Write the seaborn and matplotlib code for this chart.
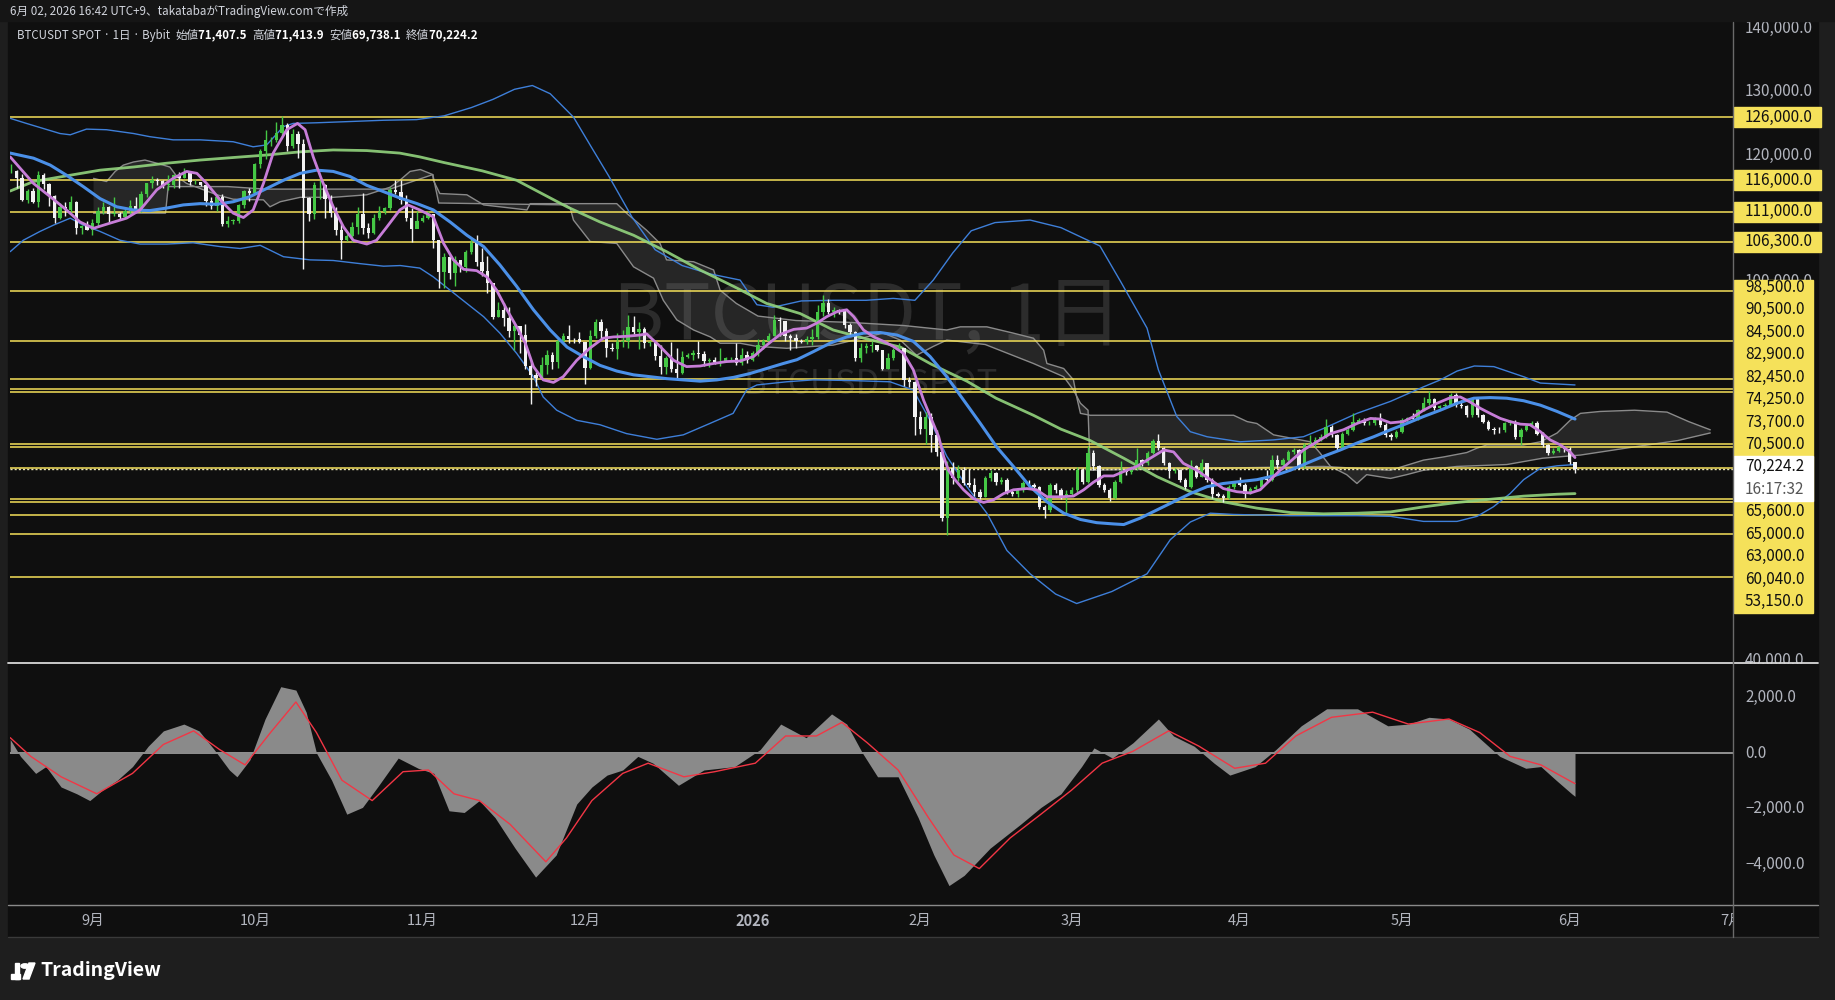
import numpy as np
import pandas as pd
import matplotlib
matplotlib.use("Agg")
import matplotlib.pyplot as plt
from matplotlib.patches import Rectangle
import seaborn as sns

# ---- daily candles (thousand USDT), 2025-08-17 .. 2026-06-02 ----
start_date = pd.Timestamp("2025-08-17")
first_open = 117.4
closes = [
    # Aug 17-31
    117.5, 116.3, 112.9, 114.3, 112.5, 116.9, 115.4, 113.5, 110.1, 111.8, 111.3, 112.6, 108.4, 108.8, 108.2,
    # Sep
    109.2, 111.2, 111.7, 110.7, 110.7, 110.2, 111.1, 112.0, 111.5, 113.9, 115.5, 116.1, 115.9, 115.3, 115.3,
    116.8, 116.4, 117.1, 115.7, 115.7, 115.2, 112.7, 112.0, 113.3, 109.0, 109.6, 109.6, 112.1, 114.3, 114.0,
    # Oct
    118.6, 120.6, 122.3, 122.4, 123.5, 124.7, 121.4, 123.3, 121.7, 113.2, 110.7, 115.2, 115.3, 113.1, 110.8,
    108.2, 106.5, 107.2, 108.6, 110.6, 108.4, 107.6, 110.1, 111.0, 111.6, 114.5, 114.1, 112.9, 110.0, 108.3, 109.6,
    # Nov
    110.1, 110.6, 106.5, 101.5, 103.9, 101.3, 103.4, 102.3, 104.7, 106.0, 103.0, 101.6, 99.7, 94.4, 95.5,
    94.2, 92.2, 92.9, 91.5, 86.6, 85.1, 84.7, 86.8, 88.3, 87.3, 90.5, 91.3, 90.9, 90.8, 90.4,
    # Dec
    86.3, 91.3, 93.5, 92.1, 89.4, 89.3, 90.4, 90.6, 92.7, 92.0, 92.5, 90.3, 90.3, 88.2, 86.4,
    87.8, 86.1, 85.5, 88.1, 88.3, 88.6, 88.5, 87.4, 87.6, 87.2, 87.3, 87.8, 87.8, 87.1, 88.4, 87.5,
    # Jan
    88.7, 89.9, 90.6, 91.4, 93.9, 93.7, 91.3, 91.0, 90.5, 90.4, 90.8, 91.2, 95.2, 96.5, 95.2,
    95.4, 95.3, 93.1, 92.0, 87.8, 89.4, 89.7, 89.9, 89.1, 86.2, 87.8, 89.1, 89.4, 84.4, 84.1, 78.6,
    # Feb
    76.7, 78.6, 75.7, 73.0, 62.5, 70.4, 68.8, 70.1, 68.0, 67.8, 66.7, 65.9, 68.8, 69.6,
    68.3, 68.5, 66.7, 66.4, 67.0, 68.0, 67.8, 67.5, 64.3, 63.8, 67.8, 67.0, 65.9, 66.4,
    # Mar
    67.0, 70.1, 68.3, 72.8, 70.7, 67.8, 67.0, 65.7, 68.3, 69.9, 69.8, 70.4, 71.7, 71.2, 72.8,
    74.8, 73.6, 71.2, 69.9, 70.1, 68.6, 67.5, 70.7, 69.1, 71.2, 68.6, 66.4, 66.0, 65.7, 67.5, 68.0,
    # Apr
    67.8, 66.4, 67.1, 67.5, 68.8, 68.6, 71.7, 70.9, 71.7, 73.0, 73.3, 70.7, 74.1, 74.3, 74.9,
    75.4, 77.0, 75.7, 73.6, 75.9, 76.5, 77.8, 78.05, 77.5, 77.6, 78.3, 77.3, 75.7, 75.4, 76.2,
    # May
    78.05, 78.3, 78.2, 79.6, 80.7, 81.3, 79.9, 80.2, 80.5, 82.0, 80.4, 80.2, 78.8, 81.3, 78.8,
    77.8, 76.7, 76.5, 76.4, 77.5, 77.8, 75.4, 76.5, 77.1, 77.5, 75.9, 74.1, 72.8, 73.2, 73.7, 73.4,
    # Jun 1-2
    71.4075, 70.2242,
]
highs = [
    118.6, 117.6, 117.0, 114.6, 114.8, 117.4, 117.1, 115.6, 113.6, 112.4, 112.6, 113.5, 112.7, 108.9, 109.5,
    109.9, 111.8, 112.6, 112.0, 113.4, 111.0, 111.6, 112.9, 113.3, 114.3, 115.5, 116.6, 116.3, 116.1, 116.8,
    117.0, 117.3, 117.9, 117.5, 116.1, 115.8, 115.4, 113.3, 113.9, 113.9, 110.3, 109.8, 112.3, 114.5, 114.8,
    118.7, 121.0, 123.9, 122.9, 125.3, 126.2, 125.0, 124.1, 123.8, 122.5, 113.4, 115.8, 116.0, 115.4, 113.6,
    111.8, 109.0, 107.5, 109.4, 111.7, 114.0, 109.2, 110.6, 112.0, 111.8, 115.0, 116.1, 116.1, 113.6, 111.6, 111.2,
    110.5, 111.2, 110.7, 106.6, 104.5, 104.2, 104.0, 103.4, 105.0, 106.7, 107.4, 105.3, 104.0, 99.7, 96.8,
    96.6, 96.0, 93.8, 92.7, 93.2, 87.4, 85.6, 88.0, 89.2, 88.8, 91.0, 91.9, 93.1, 91.1, 92.0,
    90.4, 92.3, 94.1, 94.0, 92.6, 90.3, 91.8, 92.3, 94.6, 94.5, 93.6, 92.8, 90.6, 90.5, 90.0,
    88.2, 90.4, 89.5, 89.0, 88.6, 89.1, 90.5, 88.9, 87.9, 88.0, 89.5, 88.0, 88.0, 90.3, 89.4, 89.0,
    88.9, 90.9, 90.8, 91.8, 94.7, 94.4, 93.6, 91.7, 91.6, 90.8, 91.3, 92.5, 96.2, 97.8, 97.2,
    95.9, 95.7, 95.5, 93.4, 92.2, 90.2, 90.3, 90.6, 90.0, 89.2, 88.6, 89.5, 90.2, 89.5, 84.8, 84.2,
    79.4, 79.3, 79.2, 76.5, 73.2, 71.5, 71.4, 71.0, 70.6, 70.3, 68.9, 67.1, 69.2, 70.2,
    69.8, 69.0, 68.8, 67.2, 67.3, 68.4, 68.5, 68.0, 67.6, 64.6, 68.1, 68.0, 67.3, 66.9,
    67.5, 70.6, 70.4, 74.0, 73.3, 71.0, 68.1, 67.3, 68.6, 71.5, 70.3, 70.7, 73.6, 71.9, 73.1,
    75.1, 75.8, 73.8, 71.4, 70.5, 70.3, 68.9, 71.7, 70.9, 71.8, 71.3, 68.8, 66.7, 66.3, 67.8, 68.4,
    69.1, 68.0, 67.4, 67.8, 69.0, 70.1, 72.5, 72.5, 72.0, 73.3, 73.6, 73.5, 74.4, 75.7, 75.3,
    75.9, 78.2, 77.3, 75.9, 76.2, 76.8, 79.2, 78.4, 78.3, 77.9, 78.6, 79.2, 77.5, 76.0, 76.5,
    78.3, 78.6, 79.2, 79.8, 81.7, 82.7, 81.6, 80.5, 80.8, 82.3, 82.3, 81.2, 80.5, 81.6, 81.4,
    79.0, 78.0, 77.0, 76.9, 77.8, 78.1, 78.0, 76.8, 77.4, 77.9, 77.9, 76.1, 74.3, 73.6, 74.0, 73.9,
    73.8, 71.4139,
]
lows = [
    117.2, 114.7, 112.7, 112.4, 112.4, 111.7, 114.6, 112.0, 109.3, 109.9, 110.4, 110.9, 107.5, 107.5, 108.1,
    107.3, 108.7, 110.6, 109.4, 110.3, 109.9, 110.0, 110.6, 110.9, 110.9, 113.4, 114.7, 115.3, 114.8, 114.4,
    114.8, 114.7, 116.3, 115.2, 115.4, 115.1, 112.0, 111.5, 111.1, 108.7, 108.6, 109.1, 109.2, 111.6, 112.7,
    113.9, 118.0, 119.3, 121.4, 122.0, 123.1, 120.6, 121.1, 119.6, 102.0, 109.6, 109.9, 113.0, 110.0, 110.2,
    107.4, 103.5, 106.4, 106.2, 107.5, 107.5, 106.8, 107.5, 109.7, 110.7, 111.3, 113.9, 112.2, 109.6, 106.3, 108.6,
    109.4, 109.8, 105.3, 98.9, 98.9, 100.3, 99.3, 101.5, 101.4, 104.3, 102.5, 100.8, 98.1, 94.0, 94.3,
    93.0, 91.2, 89.2, 88.6, 86.1, 80.6, 83.5, 84.7, 85.3, 86.1, 86.3, 90.1, 90.2, 90.2, 90.3,
    83.8, 86.2, 91.0, 91.0, 88.1, 88.9, 87.7, 89.6, 89.5, 91.6, 89.3, 89.5, 89.8, 87.6, 85.3,
    85.3, 85.6, 84.5, 85.3, 87.9, 87.6, 87.9, 86.6, 86.4, 86.9, 86.6, 87.2, 87.4, 86.8, 86.8, 87.1,
    87.4, 88.2, 89.3, 90.4, 91.3, 91.3, 90.6, 89.2, 89.5, 90.2, 90.1, 90.0, 90.9, 94.5, 94.8,
    94.4, 94.9, 92.6, 91.3, 87.4, 87.3, 88.7, 88.8, 88.9, 86.0, 86.1, 87.5, 88.9, 83.4, 83.3, 75.7,
    75.8, 74.3, 73.0, 72.4, 62.0, 59.8, 67.9, 68.4, 67.8, 67.4, 66.0, 65.5, 65.8, 68.4,
    67.8, 67.9, 66.3, 66.0, 65.9, 66.7, 67.5, 67.2, 63.9, 62.5, 63.5, 66.5, 65.5, 63.3,
    66.0, 66.5, 67.9, 68.0, 70.2, 67.5, 66.6, 65.3, 65.5, 68.0, 69.4, 69.5, 70.2, 70.8, 71.0,
    72.6, 73.3, 70.9, 68.8, 69.6, 68.3, 67.2, 67.3, 68.8, 69.0, 68.3, 65.7, 65.8, 65.1, 65.5, 67.2,
    67.6, 65.7, 66.3, 66.9, 67.3, 68.3, 68.4, 70.5, 70.6, 71.5, 72.6, 70.3, 70.5, 73.9, 73.8,
    74.7, 75.2, 75.4, 73.3, 73.4, 75.6, 76.3, 77.5, 77.2, 77.2, 77.3, 77.0, 75.4, 74.9, 75.2,
    76.0, 77.8, 77.9, 78.0, 79.4, 80.5, 79.6, 79.6, 80.0, 80.3, 80.1, 79.9, 78.5, 78.6, 78.5,
    77.5, 76.4, 75.9, 76.0, 76.2, 77.3, 75.1, 74.1, 76.3, 76.9, 75.6, 73.8, 72.5, 72.6, 73.0, 73.0,
    71.1, 69.7381,
]

# ---- indicator lines (day offset, thousand USDT) ----
fast_ma_days = [-0.2, 4.1, 7.2, 10.2, 12.7, 15.2, 18.2, 21.3, 23.8, 26.9, 29.9, 32.4, 34.3, 36.1, 38.6, 41.0,
                42.9, 44.7, 46.6, 48.4, 50.9, 52.9, 54.3, 55.8, 57.4, 59.5, 61.4, 63.2, 65.7, 67.5, 69.4, 71.8,
                73.3, 75.5, 78.0, 79.9, 81.7, 83.6, 86.0, 87.9, 89.7, 91.6, 93.4, 95.0, 96.5, 98.3, 100.2, 102.0,
                104.5, 106.9, 109.4, 111.3, 113.7, 116.2, 117.4, 119.9, 122.4, 124.8, 127.3, 129.8, 132.2, 134.7,
                137.2, 139.6, 142.1, 144.6, 147.0, 148.9, 150.7, 152.6, 154.4, 155.7, 157.5, 159.4, 161.2, 163.0,
                164.9, 166.7, 168.6, 170.1, 171.4, 172.3, 173.2, 174.4, 176.0, 177.8, 179.7, 181.5, 183.4, 185.2,
                187.7, 189.5, 191.4, 193.9, 196.3, 198.2, 200.0, 201.9, 203.7, 205.6, 208.0, 210.5, 213.0, 214.8,
                216.6, 219.1, 221.6, 224.0, 226.5, 229.0, 230.8, 232.7, 234.5, 236.4, 238.8, 241.3, 243.8, 246.2,
                248.7, 251.2, 253.0, 254.9, 257.3, 259.2, 261.0, 263.5, 266.0, 267.8, 269.6, 271.5, 273.3, 275.2,
                277.0, 278.9, 280.7, 282.6, 284.4, 286.3, 288.1, 289.0]
fast_ma_vals = [119.7, 115.5, 113.4, 111.3, 109.4, 108.4, 109.2, 110.0, 111.3, 114.5, 116.3, 117.4, 117.1, 115.5,
                112.9, 110.8, 110.1, 111.3, 115.5, 120.3, 124.0, 125.0, 124.0, 119.7, 116.0, 111.8, 108.6, 106.5,
                105.9, 106.5, 108.6, 111.3, 112.1, 111.3, 110.2, 106.0, 103.4, 101.9, 101.7, 100.7, 98.6, 95.5,
                92.8, 90.2, 86.5, 84.4, 84.0, 84.9, 87.5, 89.4, 91.0, 91.2, 91.3, 91.5, 91.7, 89.7, 87.5, 86.5,
                86.6, 87.0, 87.3, 87.4, 88.1, 89.9, 91.6, 92.4, 92.6, 93.4, 94.4, 95.2, 95.5, 94.4, 92.3, 91.2,
                90.5, 89.7, 88.6, 86.0, 81.2, 78.1, 75.4, 72.3, 70.1, 68.6, 67.0, 65.6, 65.0, 65.4, 66.4, 67.0,
                67.2, 67.0, 65.9, 65.9, 66.0, 67.0, 68.2, 69.2, 69.2, 69.9, 70.7, 72.0, 73.3, 73.0, 71.2, 70.1,
                68.6, 67.2, 66.7, 66.5, 67.0, 68.6, 70.1, 71.5, 73.3, 74.6, 75.9, 76.5, 77.5, 78.3, 78.2, 77.6,
                77.8, 78.6, 79.6, 80.7, 81.6, 81.7, 80.9, 79.9, 79.1, 78.3, 77.8, 77.4, 77.3, 76.2, 74.9, 74.1,
                73.0, 72.1]

mid_ma_days = [-0.2, 4.1, 7.2, 10.2, 13.3, 16.4, 19.5, 22.6, 25.6, 28.7, 31.8, 34.9, 37.9, 41.0, 44.1, 47.2, 50.3,
               53.4, 56.4, 59.5, 62.6, 65.7, 68.8, 71.8, 75.0, 78.0, 81.1, 84.2, 87.3, 90.3, 93.4, 96.5, 99.6,
               102.7, 105.7, 108.8, 111.9, 115.0, 118.1, 121.1, 124.2, 127.3, 130.4, 133.5, 136.5, 139.6, 142.7,
               145.2, 148.3, 151.3, 154.4, 157.5, 160.6, 163.7, 166.7, 169.8, 172.9, 176.0, 179.1, 182.1, 185.2,
               188.3, 191.4, 194.5, 197.6, 200.6, 203.7, 205.6, 208.6, 211.7, 214.8, 217.9, 221.0, 224.0, 227.1,
               230.2, 233.3, 236.4, 239.4, 242.5, 245.6, 248.7, 251.8, 254.9, 257.9, 261.0, 264.1, 267.2, 270.3,
               273.3, 276.4, 279.5, 282.6, 285.7, 289.0]
mid_ma_vals = [120.3, 119.5, 118.4, 116.8, 115.0, 113.1, 111.8, 111.3, 111.2, 111.6, 112.1, 112.3, 112.2, 112.6,
               113.4, 114.7, 116.0, 117.1, 117.6, 117.4, 116.6, 115.2, 114.2, 113.2, 112.3, 111.3, 109.4, 107.3,
               105.5, 102.6, 99.2, 95.5, 92.3, 89.6, 88.1, 86.7, 85.8, 85.2, 84.9, 84.6, 84.4, 84.2, 84.4, 84.8,
               85.4, 86.2, 87.0, 87.6, 88.9, 90.2, 91.2, 91.8, 91.9, 91.5, 90.5, 88.1, 84.9, 81.2, 77.5, 73.8,
               70.7, 67.5, 65.1, 63.3, 62.3, 61.8, 61.6, 61.5, 62.5, 63.8, 65.1, 66.4, 67.5, 68.0, 68.3, 68.6,
               69.2, 70.1, 71.2, 72.3, 73.3, 74.4, 75.4, 76.5, 77.5, 78.6, 79.6, 80.7, 81.5, 81.6, 81.5, 81.1,
               80.4, 79.4, 78.2]

slow_ma_days = [-0.2, 4.1, 10.2, 16.4, 22.6, 28.7, 34.9, 41.0, 47.2, 53.4, 59.5, 65.7, 71.8, 75.5, 80.0, 87.0,
                93.4, 102.7, 108.8, 115.0, 121.1, 127.3, 133.5, 139.6, 145.8, 151.9, 158.0, 164.3, 170.0, 176.6,
                182.0, 188.9, 194.0, 199.4, 205.6, 211.7, 217.9, 224.0, 230.2, 236.4, 242.5, 248.7, 254.9, 261.0,
                267.2, 273.3, 279.5, 285.7, 289.0]
slow_ma_vals = [114.3, 115.8, 116.7, 117.6, 118.1, 118.7, 119.2, 119.6, 120.0, 120.5, 120.8, 120.7, 120.3, 119.7,
                118.8, 117.5, 116.0, 111.8, 109.4, 107.3, 104.7, 101.8, 99.2, 96.5, 94.9, 92.3, 90.9, 89.6, 86.9,
                84.2, 81.5, 78.8, 76.6, 74.8, 72.0, 69.1, 66.7, 65.1, 64.1, 63.4, 63.2, 63.3, 63.5, 64.3, 65.0,
                65.5, 66.0, 66.3, 66.4]

bb_up_days = [-0.2, 2.8, 5.9, 9.0, 10.9, 13.9, 17.6, 22.6, 25.6, 29.9, 34.9, 41.0, 44.7, 47.2, 50.3, 52.1, 56.4,
              62.6, 68.8, 74.9, 80.0, 85.0, 89.0, 93.0, 96.3, 99.6, 103.9, 107.1, 110.4, 114.7, 119.0, 124.0,
              129.0, 134.7, 137.8, 140.8, 146.0, 152.0, 158.0, 163.0, 167.0, 170.4, 174.0, 177.4, 181.8, 188.3,
              194.0, 201.2, 205.0, 209.9, 212.0, 215.4, 217.9, 221.0, 227.1, 233.3, 238.8, 242.5, 248.7, 254.9,
              261.0, 264.1, 267.2, 270.4, 274.0, 279.5, 282.6, 289.0]
bb_up_vals = [125.8, 125.0, 124.2, 123.4, 123.2, 124.1, 124.0, 123.4, 122.9, 122.4, 122.4, 122.1, 121.3, 121.6,
              124.5, 125.0, 125.1, 125.3, 125.5, 125.6, 126.2, 127.5, 128.8, 130.4, 131.0, 129.7, 126.0, 121.4,
              116.7, 110.2, 105.0, 102.5, 101.2, 100.2, 96.3, 95.9, 96.9, 97.0, 97.0, 97.3, 97.0, 100.2, 104.5,
              108.0, 109.3, 109.7, 108.5, 105.6, 100.0, 92.6, 86.0, 78.6, 76.2, 75.4, 74.6, 74.9, 75.4, 76.7,
              79.1, 81.0, 83.3, 84.4, 85.8, 86.6, 86.5, 84.9, 83.9, 83.6]

bb_lo_days = [-0.2, 2.2, 5.3, 7.8, 10.9, 13.3, 16.4, 20.1, 23.8, 28.7, 33.6, 38.6, 42.3, 46.0, 50.3, 55.2, 59.5,
              64.5, 68.8, 71.9, 75.5, 78.0, 81.1, 84.2, 87.3, 90.3, 93.4, 96.5, 98.3, 100.8, 104.5, 108.8, 113.7,
              119.3, 124.2, 129.1, 133.4, 135.9, 137.8, 143.3, 148.2, 155.0, 162.4, 166.7, 169.8, 172.9, 176.6,
              180.3, 184.0, 188.3, 193.0, 196.9, 203.4, 209.9, 214.2, 217.9, 221.6, 225.9, 236.4, 248.7, 254.9,
              261.0, 267.2, 270.9, 273.9, 277.0, 279.5, 282.6, 285.7, 289.0]
bb_lo_vals = [104.7, 106.5, 107.9, 108.9, 110.0, 108.9, 107.9, 106.5, 105.9, 105.9, 106.1, 105.5, 105.2, 105.7,
              103.9, 103.4, 103.3, 102.8, 102.4, 102.5, 102.1, 100.7, 98.6, 96.5, 94.4, 91.8, 88.6, 84.9, 81.7,
              79.6, 78.0, 77.3, 75.9, 75.0, 75.7, 77.5, 79.1, 82.8, 83.6, 84.1, 84.4, 84.3, 84.1, 82.8, 78.0,
              72.3, 67.5, 63.3, 57.4, 53.7, 50.5, 49.0, 50.9, 53.7, 59.1, 61.9, 63.3, 63.1, 62.9, 62.9, 62.8,
              62.0, 62.0, 62.8, 64.3, 66.4, 68.6, 70.4, 70.8, 71.0]

cloud_a_days = [15.2, 17.6, 19.2, 20.7, 22.6, 24.7, 26.9, 29.3, 30.6, 32.4, 35.5, 38.0, 41.0, 46.6, 47.8, 49.7,
                53.4, 59.5, 65.7, 70.0, 71.8, 73.7, 75.6, 77.9, 78.0, 79.2, 84.2, 87.3, 95.3, 95.9, 103.9, 111.9,
                113.7, 117.4, 119.9, 121.1, 126.1, 129.8, 131.0, 134.0, 138.0, 145.0, 155.0, 165.0, 172.9, 175.4,
                180.3, 185.2, 188.9, 190.8, 191.4, 194.5, 196.3, 196.9, 197.6, 199.4, 225.9, 228.4, 230.2, 233.3,
                236.4, 240.1, 241.9, 243.8, 246.8, 248.7, 250.5, 254.9, 257.9, 261.0, 267.2, 276.4, 283.0, 290.0,
                300.0, 308.0, 314.0]
cloud_a_vals = [116.3, 115.8, 117.4, 118.4, 118.9, 119.2, 118.7, 118.1, 116.6, 115.5, 114.5, 113.7, 113.0, 112.9,
                111.8, 112.6, 113.3, 113.3, 113.7, 114.9, 116.0, 117.4, 117.7, 116.9, 116.0, 113.9, 113.7, 112.1,
                111.3, 112.3, 112.3, 112.3, 110.8, 108.1, 106.0, 103.4, 103.1, 101.8, 98.6, 96.5, 94.5, 93.8, 93.5,
                93.0, 92.3, 92.8, 92.8, 91.8, 91.0, 89.1, 87.0, 86.2, 84.4, 81.7, 79.1, 78.8, 78.8, 77.8, 77.5,
                75.7, 75.2, 74.6, 72.8, 70.7, 69.4, 68.0, 69.4, 68.8, 69.4, 70.1, 70.7, 71.0, 72.0, 72.5, 73.8,
                74.8, 76.0]
cloud_b_days = [15.2, 28.5, 29.0, 40.0, 47.0, 60.0, 70.0, 77.9, 79.0, 102.5, 103.3, 103.9, 107.0, 111.9, 115.0,
                118.7, 120.5, 123.0, 126.1, 129.2, 131.0, 134.7, 137.8, 143.3, 148.2, 151.9, 158.1, 161.2, 164.3,
                167.3, 170.4, 172.9, 180.0, 188.9, 194.5, 196.3, 197.6, 199.0, 199.4, 242.5, 254.9, 261.0, 264.7,
                269.0, 270.9, 272.7, 279.5, 282.6, 285.7, 288.1, 290.0, 293.6, 300.0, 306.0, 310.0, 314.0]
cloud_b_vals = [110.8, 110.8, 115.0, 115.0, 114.6, 114.6, 114.6, 116.9, 112.4, 112.1, 111.6, 109.7, 106.3, 106.0,
                102.3, 100.5, 97.0, 93.9, 92.3, 91.2, 90.2, 90.2, 89.7, 89.4, 89.7, 89.9, 91.2, 91.8, 90.7, 88.3,
                89.7, 90.7, 90.0, 87.0, 84.9, 82.8, 80.7, 79.6, 70.1, 70.7, 70.1, 71.7, 72.2, 72.9, 73.6, 74.1,
                74.1, 74.6, 76.0, 78.0, 79.1, 79.4, 79.6, 79.3, 77.8, 76.5]

# ---- MACD pane (USDT) ----
macd_days = [-0.2, 1.7, 4.5, 6.4, 9.2, 12.1, 14.5, 16.8, 19.6, 22.4, 25.3, 28.1, 31.9, 34.7, 37.5, 40.3, 41.7,
             44.1, 46.9, 49.8, 52.6, 54.5, 56.4, 59.2, 62.0, 64.9, 67.7, 71.5, 75.2, 78.1, 80.9, 83.7, 86.5, 89.4,
             93.1, 96.9, 100.7, 104.5, 107.3, 110.1, 113.0, 115.8, 118.6, 123.3, 128.0, 133.7, 138.4, 142.2,
             146.9, 151.6, 154.4, 157.3, 160.1, 163.9, 167.6, 170.5, 173.3, 176.1, 180.9, 186.5, 190.3, 194.0,
             197.8, 200.1, 203.5, 207.3, 212.0, 214.8, 218.6, 222.3, 225.2, 229.9, 233.7, 238.4, 243.1, 248.8,
             254.4, 258.2, 262.0, 265.7, 269.5, 275.1, 279.9, 282.7, 285.5, 288.4, 289.0]
macd_vals = [489, -122, -734, -489, -1223, -1468, -1712, -1345, -978, -489, 245, 795, 1040, 795, 122, -612, -856,
             -245, 1223, 2385, 2263, 1468, 0, -978, -2201, -1957, -1223, -183, -550, -734, -2079, -2140, -1712,
             -2324, -3424, -4464, -3669, -1835, -1223, -795, -612, -122, -367, -1162, -612, -489, 122, 1040, 550,
             1406, 1040, 0, -856, -856, -2324, -3669, -4770, -4403, -3424, -2568, -1957, -1468, -489, 183, -183,
             367, 1223, 612, 245, -367, -795, -489, 122, 978, 1590, 1590, 978, 1040, 1284, 1223, 856, -122, -550,
             -489, -978, -1468, -1560]
signal_days = [-0.2, 3.6, 9.2, 15.8, 22.4, 28.1, 33.7, 38.5, 43.2, 47.9, 52.6, 56.4, 61.1, 66.7, 72.4, 77.1,
               81.8, 86.5, 92.2, 98.8, 102.6, 107.3, 113.0, 117.7, 124.3, 130.0, 137.5, 143.1, 148.8, 153.5, 158.2,
               163.9, 169.5, 174.2, 178.9, 184.6, 190.3, 195.9, 201.6, 207.3, 213.9, 219.5, 226.1, 231.8, 237.4,
               244.0, 251.6, 258.2, 265.7, 271.4, 277.0, 282.7, 288.4, 289.0]
signal_vals = [550, -122, -856, -1468, -734, 306, 795, 122, -428, 734, 1835, 734, -978, -1712, -673, -612, -1468,
               -1712, -2568, -3914, -3058, -1712, -734, -367, -856, -673, -367, 612, 612, 1101, 367, -612, -2324,
               -3669, -4158, -3058, -2201, -1345, -367, 61, 795, 245, -550, -367, 612, 1284, 1468, 1040, 1223, 734,
               -122, -428, -1040, -1100]

# ---- horizontal levels and axis texts ----
levels = [126000, 116000, 111000, 106300, 98500, 90500, 84500, 82900, 82450,
          74250, 73700, 70500, 65600, 65000, 63000, 60040, 53150]
last_price = 70224.2
countdown = "16:17:32"
price_ticks = [140000, 130000, 120000, 100000, 40000]
macd_ticks = [2000, 0, -2000, -4000]
month_labels = ["9月", "10月", "11月", "12月", "2026", "2月", "3月", "4月", "5月", "6月", "7月"]
month_starts = ["2025-09-01", "2025-10-01", "2025-11-01", "2025-12-01", "2026-01-01", "2026-02-01",
                "2026-03-01", "2026-04-01", "2026-05-01", "2026-06-01", "2026-07-01"]
header_text = "6月 02, 2026 16:42 UTC+9、takatabaがTradingView.comで作成"
ohlc_names = ["始値", "高値", "安値", "終値"]
ohlc_values = ["71,407.5", "71,413.9", "69,738.1", "70,224.2"]

# ---------------------------------------------------------------------------
sns.set_theme(style="dark")
plt.rcParams["font.family"] = ["Noto Sans CJK JP", "DejaVu Sans"]

W, H = 1835, 1000
BG = "#0f0f0f"
TXT = "#b2b5be"
YEL = "#f5e15a"
AX_FS = 11

fig = plt.figure(figsize=(W / 100, H / 100), dpi=100, facecolor="#1e1e1e")


def fx(px):
    return px / W


def fy(py):
    return 1 - py / H


# panel background (behind the axes) + header strip
fig.patches.append(Rectangle((fx(8), fy(937)), fx(1810), 915 / H, transform=fig.transFigure,
                             color=BG, zorder=-5))
fig.patches.append(Rectangle((0, fy(21)), 1, 21 / H, transform=fig.transFigure,
                             color="#151515", zorder=20))

L, R = 10, 1733
ax = fig.add_axes([fx(L), fy(663), fx(R - L), 641 / H])
ax2 = fig.add_axes([fx(L), fy(905), fx(R - L), 242 / H], sharex=ax)
axt = fig.add_axes([fx(L), fy(937), fx(R - L), 32 / H], sharex=ax)
for a in (ax, ax2, axt):
    a.set_facecolor(BG)
    for s in a.spines.values():
        s.set_visible(False)
    a.tick_params(left=False, bottom=False, labelleft=False, labelbottom=False)
    a.grid(False)

days = np.arange(len(closes))
c = np.array(closes)
o = np.array([first_open] + closes[:-1])
h = np.array(highs)
lo = np.array(lows)
col = np.where(c >= o, "#45c845", "#f2f2f2")

# Ichimoku cloud
cx = np.r_[cloud_a_days, cloud_b_days[::-1]]
cy = np.r_[cloud_a_vals, cloud_b_vals[::-1]]
ax.fill(cx, cy, color="#a0a0a0", alpha=0.16, lw=0, zorder=1)
sns.lineplot(x=cloud_a_days, y=cloud_a_vals, ax=ax, color="#8a8a8a", lw=1.0, estimator=None, sort=False, zorder=2)
sns.lineplot(x=cloud_b_days, y=cloud_b_vals, ax=ax, color="#8a8a8a", lw=1.0, estimator=None, sort=False, zorder=2)

# horizontal levels
for lv in levels:
    ax.axhline(lv / 1000, color=YEL, lw=1.1, zorder=3)
ax.axhline(last_price / 1000, color="#ece6b8", lw=1.0, ls=(0, (1.5, 1.5)), zorder=3)

# Bollinger bands and moving averages
sns.lineplot(x=bb_up_days, y=bb_up_vals, ax=ax, color="#3e7fd9", lw=1.0, estimator=None, sort=False, zorder=4)
sns.lineplot(x=bb_lo_days, y=bb_lo_vals, ax=ax, color="#3e7fd9", lw=1.0, estimator=None, sort=False, zorder=4)
sns.lineplot(x=slow_ma_days, y=slow_ma_vals, ax=ax, color="#93d47e", lw=2.0, alpha=0.9,
             estimator=None, sort=False, zorder=4)
sns.lineplot(x=mid_ma_days, y=mid_ma_vals, ax=ax, color="#4b90e8", lw=2.2, estimator=None, sort=False, zorder=6)

# candles
ax.vlines(days, lo, h, colors=col, lw=1.0, zorder=5)
ax.bar(days, np.maximum(np.abs(c - o), 0.09), bottom=np.minimum(o, c), width=0.62,
       color=col, lw=0, zorder=5)

sns.lineplot(x=fast_ma_days, y=fast_ma_vals, ax=ax, color="#c77dd8", lw=2.0, estimator=None, sort=False, zorder=7)

ax.set_xlim(-0.24, 318.2)
ax.set_ylim(39.584, 141.054)
ax.set_xlabel("")
ax.set_ylabel("")

# watermark
ax.text((868 - L) / (R - L), (663 - 318) / 641, "BTCUSDT, 1日", transform=ax.transAxes,
        ha="center", va="center", fontsize=56, color="#2c2c2c", zorder=0.5)
ax.text((871 - L) / (R - L), (663 - 384) / 641, "BTCUSDT SPOT", transform=ax.transAxes,
        ha="center", va="center", fontsize=25, color="#2c2c2c", zorder=0.5)

# MACD pane
ax2.fill_between(macd_days, 0, macd_vals, color="#8a8a8a", lw=0, zorder=2)
sns.lineplot(x=signal_days, y=signal_vals, ax=ax2, color="#f23645", lw=1.0, estimator=None, sort=False, zorder=3)
ax2.axhline(0, color="#a8a8a8", lw=1.2, zorder=1)
ax2.set_ylim(-5468, 3237)
ax2.set_xlabel("")
ax2.set_ylabel("")

# time axis
axt.set_ylim(0, 1)
for lab, d in zip(month_labels, month_starts):
    xi = (pd.Timestamp(d) - start_date).days
    axt.text(xi, 0.5, lab, ha="center", va="center", fontsize=10.5, color=TXT,
             fontweight="bold" if lab == "2026" else "normal", clip_on=True)

# pane separators
fig.add_artist(plt.Line2D([fx(8), fx(1818)], [fy(663), fy(663)], color="#d8d8d8", lw=1.3, zorder=30))
fig.add_artist(plt.Line2D([fx(8), fx(1818)], [fy(905), fy(905)], color="#8a8a8a", lw=1.0, zorder=30))
fig.add_artist(plt.Line2D([fx(8), fx(1818)], [fy(937), fy(937)], color="#3a3a3a", lw=1.0, zorder=30))
fig.add_artist(plt.Line2D([fx(R), fx(R)], [fy(22), fy(937)], color="#6a6a6a", lw=1.0, zorder=30))


# price axis texts
def price_y(p):
    return 117.1 + (126000 - p) * 0.006317


for p in price_ticks:
    fig.text(fx(1745), fy(price_y(p)), f"{p:,.1f}", ha="left", va="center", fontsize=AX_FS,
             color=TXT, zorder=10)
# cover under the separator so the 40,000 label is cut like the reference
fig.patches.append(Rectangle((fx(R + 1), fy(905)), fx(84), 241 / H, transform=fig.transFigure,
                             color=BG, zorder=11))
for v in macd_ticks:
    y = 753 - v * 55.6 / 2000
    s = "0.0" if v == 0 else f"{v:,.1f}".replace("-", "−")
    fig.text(fx(1745), fy(y), s, ha="left", va="center", fontsize=AX_FS, color=TXT, zorder=12)

# level labels: four on their own lines, the rest stacked
for lv in levels[:4]:
    y = price_y(lv)
    fig.patches.append(Rectangle((fx(1734), fy(y + 10)), fx(87), 20 / H, transform=fig.transFigure,
                                 color=YEL, zorder=13))
    fig.text(fx(1745), fy(y), f"{lv:,.1f}", ha="left", va="center", fontsize=AX_FS, color="#111111", zorder=14)

stack = [f"{lv:,.1f}" for lv in levels[4:12]] + [f"{last_price:,.1f}", countdown] + \
        [f"{lv:,.1f}" for lv in levels[12:]]
y0, step = 287.5, 22.43
top, bot = 280, y0 + 14 * step + 11
fig.patches.append(Rectangle((fx(1734), fy(bot)), fx(79), (bot - top) / H,
                             transform=fig.transFigure, color=YEL, zorder=13))
fig.patches.append(Rectangle((fx(1734), fy(y0 + 9.5 * step)), fx(79), 2 * step / H,
                             transform=fig.transFigure, color="#ffffff", zorder=13))
for k, s in enumerate(stack):
    tc = "#555555" if s == countdown else "#111111"
    fig.text(fx(1745), fy(y0 + k * step), s, ha="left", va="center", fontsize=AX_FS, color=tc, zorder=14)

# header and legend row
fig.text(fx(10), fy(11), header_text, ha="left", va="center", fontsize=8.4, color="#d1d4dc", zorder=25)
renderer = fig.canvas.get_renderer()
parts = [("BTCUSDT SPOT · 1日 · Bybit  ", "#d1d4dc", "normal")]
for n, v in zip(ohlc_names, ohlc_values):
    parts.append((n, "#d1d4dc", "normal"))
    parts.append((v + "  ", "#ffffff", "bold"))
xpos = 17
for s, cc, wt in parts:
    t = fig.text(fx(xpos), fy(35), s, ha="left", va="center", fontsize=8.3, color=cc, fontweight=wt, zorder=25)
    xpos += t.get_window_extent(renderer=renderer).width

# footer logo
fig.patches.append(Rectangle((fx(11), fy(979)), fx(9), 5 / H, transform=fig.transFigure, color="#ffffff", zorder=5))
fig.patches.append(Rectangle((fx(15), fy(979)), fx(4), 16 / H, transform=fig.transFigure, color="#ffffff", zorder=5))
fig.patches.append(plt.Circle((fx(25), fy(966)), 2.2 / H, transform=fig.transFigure, color="#ffffff", zorder=5))
fig.patches.append(plt.Polygon([(fx(29), fy(963)), (fx(35), fy(963)), (fx(29), fy(979)), (fx(23), fy(979))],
                               closed=True, transform=fig.transFigure, color="#ffffff", zorder=5))
fig.text(fx(40), fy(970), "TradingView", ha="left", va="center", fontsize=14, color="#ffffff",
         fontweight="bold", zorder=5)

fig.savefig("out.png", dpi=100, facecolor=fig.get_facecolor())
